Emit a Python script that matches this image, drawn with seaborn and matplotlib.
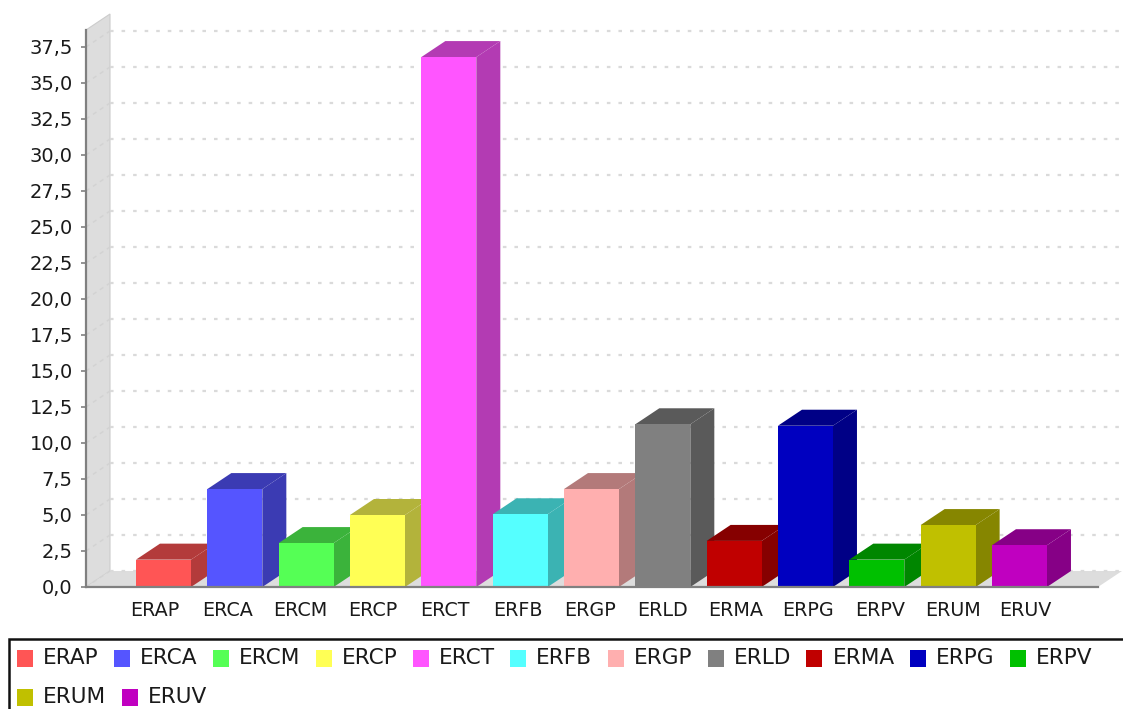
import matplotlib
matplotlib.use("Agg")
import matplotlib.pyplot as plt
import pandas as pd
import seaborn as sns
from matplotlib.patches import Polygon, Rectangle
from matplotlib.colors import to_rgb

categories = ["ERAP", "ERCA", "ERCM", "ERCP", "ERCT", "ERFB", "ERGP",
              "ERLD", "ERMA", "ERPG", "ERPV", "ERUM", "ERUV"]
values = [1.9, 6.8, 3.05, 5.0, 36.8, 5.05, 6.8, 11.3, 3.2, 11.2, 1.9, 4.3, 2.9]
colors = ["#FF5555", "#5555FF", "#55FF55", "#FFFF55", "#FF55FF", "#55FFFF",
          "#FFAFAF", "#808080", "#C00000", "#0000C0", "#00C000", "#C0C000",
          "#C000C0"]
y_ticks = [i * 2.5 for i in range(16)]
y_tick_labels = [f"{t:.1f}".replace(".", ",") for t in y_ticks]

W, H = 1123, 709
DEPTH_X, DEPTH_Y = 24, 16      # extrusion of the 3D look, in pixels
PLOT_L, PLOT_R, PLOT_T, PLOT_B = 86, 1098, 30, 587
BAR_STEP, BAR_FIRST, BAR_W = 71.33, 163.5, 55
PX_PER_UNIT = 14.4
WALL = "#DDDDDD"
AXIS = "#808080"
GRID = "#DADADA"
TEXT = "#1A1A1A"

sns.set_theme(style="white", font="DejaVu Sans")
fig = plt.figure(figsize=(W / 100, H / 100), dpi=100, facecolor="white")
ax = fig.add_axes([PLOT_L / W, 1 - PLOT_B / H, (PLOT_R - PLOT_L) / W, (PLOT_B - PLOT_T) / H])
ax.patch.set_visible(False)

df = pd.DataFrame({"code": categories, "value": values})
sns.barplot(data=df, x="code", y="value", hue="code", palette=colors, legend=False,
            width=BAR_W / BAR_STEP, saturation=1, linewidth=0, ax=ax, zorder=10)

ax.set_xlim((PLOT_L - BAR_FIRST) / BAR_STEP, (PLOT_R - BAR_FIRST) / BAR_STEP)
ax.set_ylim(0, (PLOT_B - PLOT_T) / PX_PER_UNIT)
dx = DEPTH_X / BAR_STEP
dy = DEPTH_Y / PX_PER_UNIT
x0, x1 = ax.get_xlim()
y1 = ax.get_ylim()[1]

# back wall and floor
ax.add_patch(Polygon([(x0, 0), (x0 + dx, dy), (x0 + dx, y1 + dy), (x0, y1)], closed=True,
                     fc=WALL, ec="#CCCCCC", lw=0.8, clip_on=False, zorder=1))
ax.add_patch(Polygon([(x0, 0), (x0 + dx, dy), (x1 + dx, dy), (x1, 0)], closed=True,
                     fc=WALL, ec="none", clip_on=False, zorder=1))

# dotted gridlines across the back wall, with their run down the side wall
for t in y_ticks:
    ax.plot([x0 + dx, x1 + dx], [t + dy, t + dy], color=GRID, lw=1.6,
            ls=(0, (1.6, 3.6)), clip_on=False, zorder=2)
    ax.plot([x0, x0 + dx], [t, t + dy], color="#D2D2D2", lw=1.0,
            ls=(0, (3, 3)), clip_on=False, zorder=2)

# extruded side and top of every bar, painted left to right so neighbours overlap
for i, (bar, col) in enumerate(zip(ax.patches[:len(values)], colors)):
    left, right, top = bar.get_x(), bar.get_x() + bar.get_width(), bar.get_height()
    dark = tuple(c * 0.7 for c in to_rgb(col))
    z = 3 + i
    bar.set_zorder(z + 0.5)
    ax.add_patch(Polygon([(right, 0), (right + dx, dy), (right + dx, top + dy), (right, top)],
                         closed=True, fc=dark, ec="none", clip_on=False, zorder=z))
    ax.add_patch(Polygon([(left, top), (left + dx, top + dy), (right + dx, top + dy), (right, top)],
                         closed=True, fc=dark, ec="none", clip_on=False, zorder=z))

for side in ("top", "right"):
    ax.spines[side].set_visible(False)
for side in ("left", "bottom"):
    ax.spines[side].set_color(AXIS)
    ax.spines[side].set_linewidth(1.6)
    ax.spines[side].set_zorder(30)

ax.set_yticks(y_ticks, y_tick_labels)
ax.tick_params(axis="y", length=3.5, width=1.2, color=AXIS, labelsize=14,
               labelcolor=TEXT, pad=6, left=True)
# category labels sit on a slightly wider pitch than the bars
label_pitch = 72.55 / BAR_STEP
label_start = (155 - BAR_FIRST) / BAR_STEP
ax.set_xticks([label_start + i * label_pitch for i in range(len(categories))], categories)
ax.tick_params(axis="x", length=0, labelsize=13.8, labelcolor=TEXT, pad=10)
ax.set_xlabel("")
ax.set_ylabel("")

# legend box whose top edge runs off the right side of the canvas
overlay = fig.add_axes([0, 0, 1, 1])
overlay.set_xlim(0, W)
overlay.set_ylim(H, 0)
overlay.axis("off")
overlay.add_patch(Rectangle((9, 639), W + 20, 100, fc="white", ec="#111111", lw=1.8, clip_on=True))

# entries flow left to right and wrap at the box width
renderer = fig.canvas.get_renderer()
cursor, row_y = 17, 658
for name, col in zip(categories, colors):
    label = overlay.text(cursor + 26, row_y, name, fontsize=15.6, color=TEXT, va="center", ha="left")
    width = label.get_window_extent(renderer).width
    if cursor + 26 + width > W - 10:
        cursor, row_y = 17, row_y + 39
        label.set_position((cursor + 26, row_y))
    overlay.add_patch(Rectangle((cursor, row_y - 8.5), 16, 17, fc=col, ec="none"))
    cursor += 26 + width + 15.4

fig.savefig("out.png", dpi=100, facecolor="white")
